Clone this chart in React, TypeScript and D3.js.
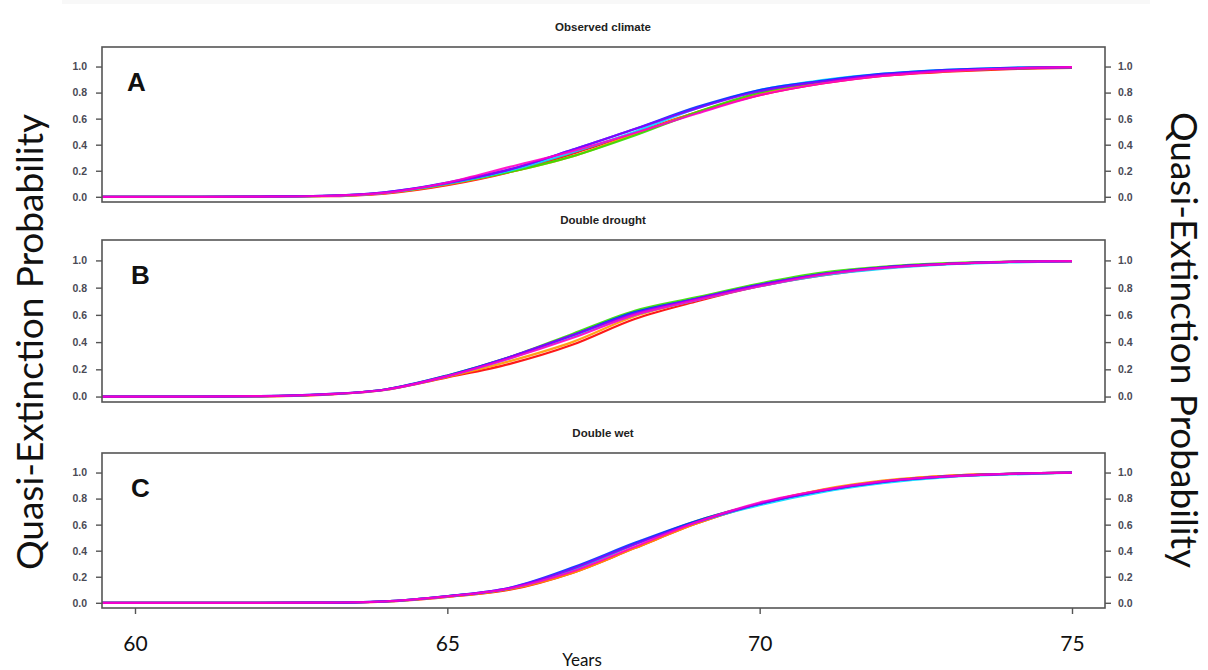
import React, { useEffect, useRef } from 'react';
import * as d3 from 'd3';

// years on the x axis (shared by all panels)
const years = [59, 61, 62, 63, 64, 65, 66, 67, 68, 69, 70, 71, 72, 73, 74, 75];
const xTicks = [60, 65, 70, 75];
const yTicks = [0, 0.2, 0.4, 0.6, 0.8, 1.0];
const seriesColors = ['#FF0000', '#FF9900', '#33DD00', '#00D8FF', '#0030FF', '#8A00FF', '#FF00C8'];

// quasi-extinction probability, one row per simulated series
const observedClimate = [
  [0, 0, 0.001, 0.004, 0.025, 0.09, 0.19, 0.33, 0.49, 0.65, 0.78, 0.87, 0.93, 0.96, 0.98, 0.99],
  [0, 0, 0.001, 0.005, 0.028, 0.095, 0.19, 0.31, 0.48, 0.65, 0.79, 0.875, 0.935, 0.965, 0.985, 0.995],
  [0, 0, 0.001, 0.006, 0.03, 0.1, 0.19, 0.31, 0.47, 0.65, 0.8, 0.885, 0.94, 0.97, 0.985, 0.995],
  [0, 0, 0.001, 0.006, 0.03, 0.1, 0.2, 0.34, 0.5, 0.68, 0.82, 0.895, 0.945, 0.975, 0.99, 0.995],
  [0, 0, 0.002, 0.008, 0.035, 0.11, 0.21, 0.36, 0.52, 0.69, 0.82, 0.89, 0.945, 0.975, 0.99, 0.995],
  [0, 0, 0.002, 0.008, 0.035, 0.105, 0.21, 0.36, 0.52, 0.68, 0.81, 0.885, 0.94, 0.97, 0.985, 0.995],
  [0, 0, 0.001, 0.006, 0.03, 0.11, 0.23, 0.35, 0.49, 0.64, 0.78, 0.87, 0.93, 0.965, 0.985, 0.995],
];

const doubleDrought = [
  [0, 0, 0.002, 0.013, 0.048, 0.14, 0.24, 0.38, 0.57, 0.7, 0.81, 0.89, 0.945, 0.975, 0.99, 0.995],
  [0, 0, 0.002, 0.014, 0.05, 0.145, 0.26, 0.4, 0.59, 0.71, 0.815, 0.895, 0.95, 0.975, 0.99, 0.995],
  [0, 0, 0.003, 0.015, 0.052, 0.155, 0.29, 0.46, 0.63, 0.73, 0.83, 0.91, 0.955, 0.98, 0.99, 0.995],
  [0, 0, 0.003, 0.015, 0.05, 0.15, 0.28, 0.44, 0.6, 0.71, 0.81, 0.89, 0.94, 0.97, 0.985, 0.995],
  [0, 0, 0.003, 0.016, 0.052, 0.155, 0.29, 0.45, 0.62, 0.72, 0.82, 0.9, 0.95, 0.975, 0.99, 0.995],
  [0, 0, 0.003, 0.016, 0.052, 0.15, 0.29, 0.45, 0.61, 0.72, 0.82, 0.9, 0.95, 0.975, 0.99, 0.995],
  [0, 0, 0.003, 0.015, 0.05, 0.15, 0.28, 0.43, 0.6, 0.71, 0.81, 0.895, 0.945, 0.975, 0.99, 0.995],
];

const doubleWet = [
  [0, 0, 0, 0.001, 0.009, 0.045, 0.1, 0.23, 0.42, 0.61, 0.76, 0.865, 0.935, 0.975, 0.99, 1.0],
  [0, 0, 0, 0.001, 0.01, 0.048, 0.105, 0.23, 0.42, 0.61, 0.76, 0.87, 0.94, 0.975, 0.99, 1.0],
  [0, 0, 0, 0.001, 0.01, 0.05, 0.11, 0.25, 0.45, 0.63, 0.76, 0.86, 0.93, 0.97, 0.99, 1.0],
  [0, 0, 0, 0.001, 0.01, 0.05, 0.11, 0.25, 0.45, 0.62, 0.75, 0.85, 0.92, 0.965, 0.985, 1.0],
  [0, 0, 0, 0.001, 0.011, 0.052, 0.115, 0.27, 0.46, 0.63, 0.76, 0.86, 0.93, 0.97, 0.99, 1.0],
  [0, 0, 0, 0.001, 0.011, 0.05, 0.115, 0.26, 0.45, 0.62, 0.76, 0.86, 0.93, 0.97, 0.99, 1.0],
  [0, 0, 0, 0.001, 0.01, 0.05, 0.11, 0.24, 0.43, 0.62, 0.77, 0.865, 0.935, 0.97, 0.99, 1.0],
];

const panelTitles = ['Observed climate', 'Double drought', 'Double wet'];
const panelLetters = ['A', 'B', 'C'];
const panelData = [observedClimate, doubleDrought, doubleWet];

const App = () => {
  const ref = useRef<SVGSVGElement | null>(null);

  useEffect(() => {
    const width = 1208;
    const height = 670;
    const boxLeft = 102;
    const boxRight = 1105;
    const boxes = [
      { top: 47, bottom: 202 },
      { top: 240, bottom: 402 },
      { top: 453, bottom: 608 },
    ];
    const smallFont = '"Liberation Sans", Arial, sans-serif';
    const bigFont = 'Lato, "Open Sans", sans-serif';

    const svg = d3.select(ref.current);
    svg.selectAll('*').remove();
    svg.attr('width', width).attr('height', height);

    svg.append('rect').attr('width', width).attr('height', height).attr('fill', '#fff');
    svg.append('rect').attr('x', 62).attr('y', 0).attr('width', 1088).attr('height', 4).attr('fill', '#f8f8f8');

    const x = d3.scaleLinear().domain([60, 75]).range([135, 1072]);

    boxes.forEach((b, p) => {
      const y = d3.scaleLinear().domain([-0.04, 1.15]).range([b.bottom, b.top]);
      const g = svg.append('g');

      // clip lines to the plot box
      const clipId = `clip-${p}`;
      svg.append('clipPath').attr('id', clipId)
        .append('rect')
        .attr('x', boxLeft).attr('y', b.top)
        .attr('width', boxRight - boxLeft).attr('height', b.bottom - b.top);

      const line = d3.line<number>()
        .x((d, i) => x(years[i]))
        .y((d) => y(d))
        .curve(d3.curveMonotoneX);

      g.append('g').attr('clip-path', `url(#${clipId})`)
        .selectAll('path')
        .data(panelData[p])
        .join('path')
        .attr('d', (d) => line(d))
        .attr('fill', 'none')
        .attr('stroke', (d, i) => seriesColors[i])
        .attr('stroke-width', 2.2)
        .attr('stroke-opacity', 0.9);

      // box
      g.append('rect')
        .attr('x', boxLeft).attr('y', b.top)
        .attr('width', boxRight - boxLeft).attr('height', b.bottom - b.top)
        .attr('fill', 'none').attr('stroke', '#555').attr('stroke-width', 1.6);

      const styleAxis = (sel: any) => {
        sel.select('.domain').remove();
        sel.selectAll('line').attr('stroke', '#555').attr('stroke-width', 1.4);
        sel.selectAll('text')
          .attr('font-family', smallFont)
          .attr('font-size', 10.5)
          .attr('font-weight', 'bold')
          .attr('fill', '#4a4a55');
      };

      g.append('g')
        .attr('transform', `translate(${boxLeft},0)`)
        .call(d3.axisLeft(y).tickValues(yTicks).tickFormat(d3.format('.1f')).tickSize(6).tickPadding(9))
        .call(styleAxis);

      g.append('g')
        .attr('transform', `translate(${boxRight},0)`)
        .call(d3.axisRight(y).tickValues(yTicks).tickFormat(d3.format('.1f')).tickSize(6).tickPadding(7))
        .call(styleAxis);

      // panel title
      svg.append('text')
        .attr('x', 603).attr('y', b.top - 16)
        .attr('text-anchor', 'middle')
        .attr('font-family', smallFont)
        .attr('font-size', 11.5)
        .attr('font-weight', 'bold')
        .attr('fill', '#222')
        .text(panelTitles[p]);

      // panel letter
      svg.append('text')
        .attr('x', p === 0 ? 127 : 131).attr('y', b.top + 44)
        .attr('font-family', smallFont)
        .attr('font-size', 26)
        .attr('font-weight', 'bold')
        .attr('fill', '#111')
        .text(panelLetters[p]);

      if (p === boxes.length - 1) {
        const xa = svg.append('g')
          .attr('transform', `translate(0,${b.bottom})`)
          .call(d3.axisBottom(x).tickValues(xTicks).tickFormat(d3.format('d')).tickSize(6));
        xa.select('.domain').remove();
        xa.selectAll('line').attr('stroke', '#555').attr('stroke-width', 1.4);
        xa.selectAll('text')
          .attr('y', 43).attr('dy', 0)
          .attr('font-family', bigFont)
          .attr('font-size', 21)
          .attr('fill', '#111');
      }
    });

    svg.append('text')
      .attr('x', 582).attr('y', 666)
      .attr('text-anchor', 'middle')
      .attr('font-family', bigFont)
      .attr('font-size', 17)
      .attr('fill', '#111')
      .text('Years');

    svg.append('text')
      .attr('transform', 'translate(43,342) rotate(-90)')
      .attr('text-anchor', 'middle')
      .attr('font-family', bigFont)
      .attr('font-size', 37)
      .attr('fill', '#111')
      .text('Quasi-Extinction Probability');

    svg.append('text')
      .attr('transform', 'translate(1171,340) rotate(90)')
      .attr('text-anchor', 'middle')
      .attr('font-family', bigFont)
      .attr('font-size', 37)
      .attr('fill', '#111')
      .text('Quasi-Extinction Probability');
  }, []);

  return <svg ref={ref} style={{ position: 'absolute', left: 0, top: 0, display: 'block' }} />;
};

export default App;
